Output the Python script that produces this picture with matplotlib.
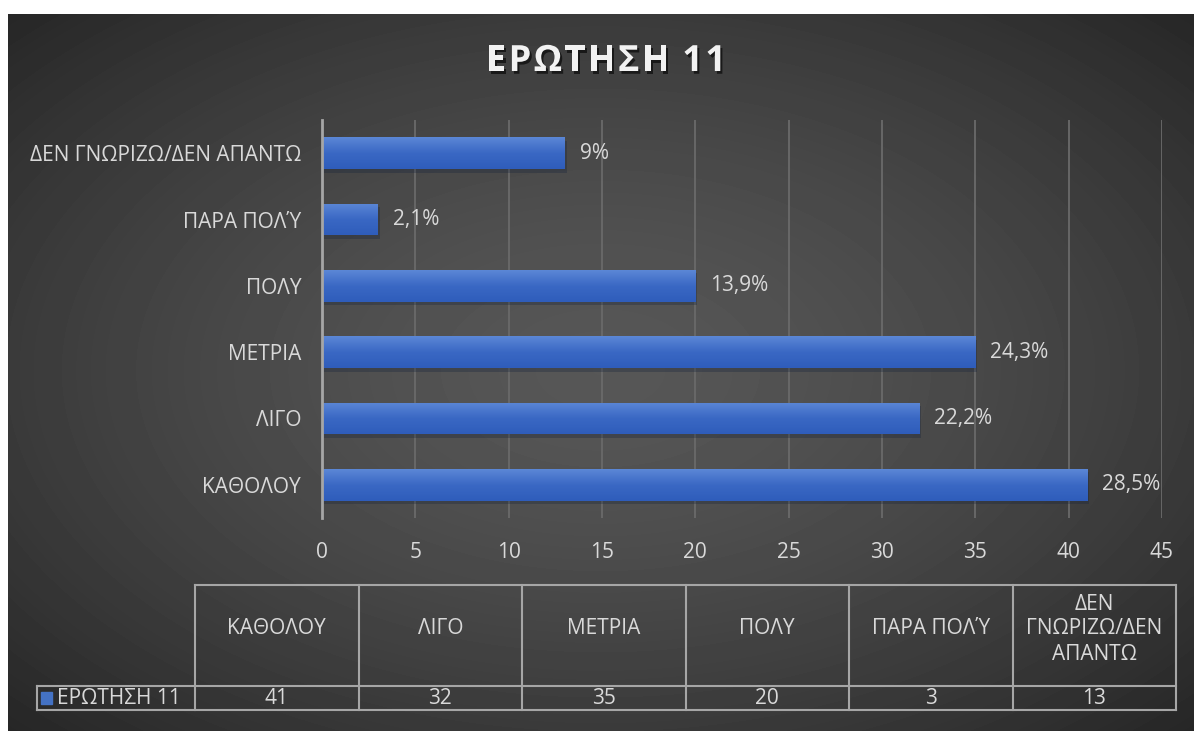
import numpy as np
import matplotlib.pyplot as plt
import matplotlib.patheffects as pe
from matplotlib.colors import LinearSegmentedColormap
from matplotlib.patches import Rectangle

plt.rcParams['font.family'] = ['Open Sans', 'DejaVu Sans']

# data
categories = ['ΚΑΘΟΛΟΥ', 'ΛΙΓΟ', 'ΜΕΤΡΙΑ', 'ΠΟΛΥ', 'ΠΑΡΑ ΠΟΛΎ', 'ΔΕΝ ΓΝΩΡΙΖΩ/ΔΕΝ ΑΠΑΝΤΩ']
header_labels = ['ΚΑΘΟΛΟΥ', 'ΛΙΓΟ', 'ΜΕΤΡΙΑ', 'ΠΟΛΥ', 'ΠΑΡΑ ΠΟΛΎ', 'ΔΕΝ\nΓΝΩΡΙΖΩ/ΔΕΝ\nΑΠΑΝΤΩ']
counts = [41, 32, 35, 20, 3, 13]
percents = ['28,5%', '22,2%', '24,3%', '13,9%', '2,1%', '9%']
xticks = [0, 5, 10, 15, 20, 25, 30, 35, 40, 45]
series_name = 'ΕΡΩΤΗΣΗ 11'

TXT = '#d9d9d9'
FS = 15
W, H = 1194, 731
fig = plt.figure(figsize=(W / 100, H / 100), dpi=100)
fig.patch.set_facecolor('white')

# overlay axes in pixel coords (background, title, table)
ov = fig.add_axes([0, 0, 1, 1])
ov.set_xlim(0, W)
ov.set_ylim(H, 0)
ov.axis('off')

x0, y0 = 8, 14
yy, xx = np.mgrid[y0:H, x0:W]
r = np.sqrt(((xx - 600) / 593.0) ** 2 + ((yy - 370) / 360.0) ** 2) / np.sqrt(2)
val = 0.34 - 0.19 * np.clip(r, 0, 1) ** 1.5
ov.imshow(val, cmap='gray', vmin=0, vmax=1, extent=(x0, W, H, y0),
          interpolation='bilinear', aspect='auto', zorder=0)
ov.set_xlim(0, W)
ov.set_ylim(H, 0)

# title with letter spacing
renderer = fig.canvas.get_renderer()
fs_title = 26
shadow = [pe.withSimplePatchShadow(offset=(1.5, -2), shadow_rgbFace='black', alpha=0.6)]
widths = []
for ch in series_name:
    if ch == ' ':
        widths.append(8)
        continue
    t = ov.text(0, 0, ch, fontsize=fs_title, weight='bold')
    widths.append(t.get_window_extent(renderer).width)
    t.remove()
track = max(0.0, (240 - sum(widths)) / (len(widths) - 1))
cx = 606 - (sum(widths) + track * (len(widths) - 1)) / 2
for ch, w in zip(series_name, widths):
    if ch != ' ':
        ov.text(cx, 62, ch, fontsize=fs_title, weight='bold', color='#f2f2f2',
                ha='left', va='center', path_effects=shadow, zorder=5)
    cx += w + track

# main bar chart
ax = fig.add_axes([322 / W, 1 - 518 / H, 840 / W, 398 / H])
ax.set_facecolor('none')
ax.set_zorder(2)
y = np.arange(len(categories))
bh = 0.48
bars = ax.barh(y, counts, height=bh, color='#4472C4', zorder=3,
               path_effects=[pe.SimplePatchShadow(offset=(1.5, -2.5), alpha=0.3), pe.Normal()])
cmap = LinearSegmentedColormap.from_list('b', ['#5b87d6', '#3a68c4', '#2f5dbb'])
grad = np.linspace(0, 1, 64).reshape(-1, 1)
for yi, v, bar in zip(y, counts, bars):
    im = ax.imshow(grad, cmap=cmap, extent=(0, v, yi - bh / 2, yi + bh / 2),
                   aspect='auto', zorder=3.5, interpolation='bilinear')
    im.set_clip_path(bar)
for yi, v, p in zip(y, counts, percents):
    ax.annotate(p, (v, yi), xytext=(15, 0), textcoords='offset pixels',
                ha='left', va='center', color=TXT, fontsize=FS, zorder=5)

ax.set_xlim(0, 45)
ax.set_ylim(-0.5, len(categories) - 0.5)
ax.set_xticks(xticks)
ax.set_yticks(y, categories)
ax.grid(axis='x', color='#6a6a6a', lw=1.3, zorder=1)
ax.set_axisbelow(True)
for s in ['top', 'right', 'bottom']:
    ax.spines[s].set_visible(False)
ax.spines['left'].set_color('#a6a6a6')
ax.spines['left'].set_linewidth(2)
ax.spines['left'].set_zorder(4)
ax.tick_params(axis='both', length=0, colors=TXT, labelsize=FS)
ax.tick_params(axis='y', pad=15)
ax.tick_params(axis='x', pad=17)

# data table
LC = '#a6a6a6'
col_edges = [195 + 163.5 * k for k in range(len(counts) + 1)]
top, mid, bot, left = 585, 686, 710, 37
ov.plot([col_edges[0], col_edges[-1]], [top, top], color=LC, lw=1.5)
ov.plot([left, col_edges[-1]], [mid, mid], color=LC, lw=1.5)
ov.plot([left, col_edges[-1]], [bot, bot], color=LC, lw=1.5)
ov.plot([left, left], [mid, bot], color=LC, lw=1.5)
for xe in col_edges:
    ov.plot([xe, xe], [top, bot], color=LC, lw=1.5)
for k, (lab, v) in enumerate(zip(header_labels, counts)):
    xc = (col_edges[k] + col_edges[k + 1]) / 2
    ov.text(xc, 629, lab, ha='center', va='center', color=TXT, fontsize=FS,
            linespacing=1.25, multialignment='center')
    ov.text(xc, 698, str(v), ha='center', va='center', color=TXT, fontsize=FS)
ov.add_patch(Rectangle((41, 692), 11, 12, color='#4472C4'))
ov.text(57, 698, series_name, ha='left', va='center', color=TXT, fontsize=FS)

fig.savefig('out.png', dpi=100, facecolor='white')
